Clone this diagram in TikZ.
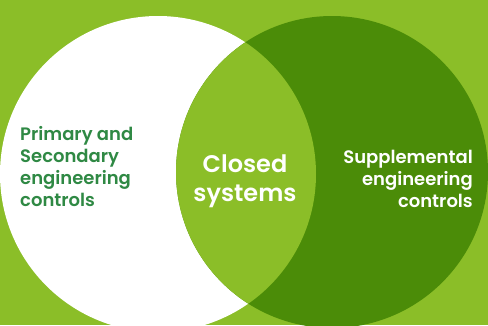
\documentclass[tikz,border=0pt]{standalone}
\usepackage{fontspec}
\setmainfont{Poppins}[BoldFont={Poppins SemiBold}]
\definecolor{bggreen}{RGB}{139,190,40}
\definecolor{darkgreen}{RGB}{75,140,8}
\definecolor{textgreen}{RGB}{47,137,68}
\tikzset{
  sidetext/.style={inner sep=0pt,font=\bfseries\fontsize{18}{22}\selectfont},
  midtext/.style={inner sep=0pt,align=center,text=white,font=\bfseries\fontsize{24}{29}\selectfont}
}

\begin{document}
\begin{tikzpicture}[x=1pt,y=-1pt]
	\fill[bggreen] (0,0) rectangle (488,325);
	\useasboundingbox (0,0) rectangle (488,325);
	\coordinate (lc) at (158,174);
	\coordinate (rc) at (332,172);
	% the two sets
	\fill[white] (lc) circle (158pt);
	\fill[darkgreen] (rc) circle (156pt);
	\begin{scope}
		\clip (lc) circle (158pt);
		\fill[bggreen] (rc) circle (156pt);
	\end{scope}
	% labels
	\node[sidetext,align=left,anchor=west,text=textgreen] (primary) at (20,167) {Primary and\\Secondary\\engineering\\controls};
	\node[midtext] (closed) at (245,181) {Closed\\systems};
	\node[sidetext,align=right,anchor=east,text=white] (supp) at (473,179) {Supplemental\\engineering\\controls};
\end{tikzpicture}
\end{document}
